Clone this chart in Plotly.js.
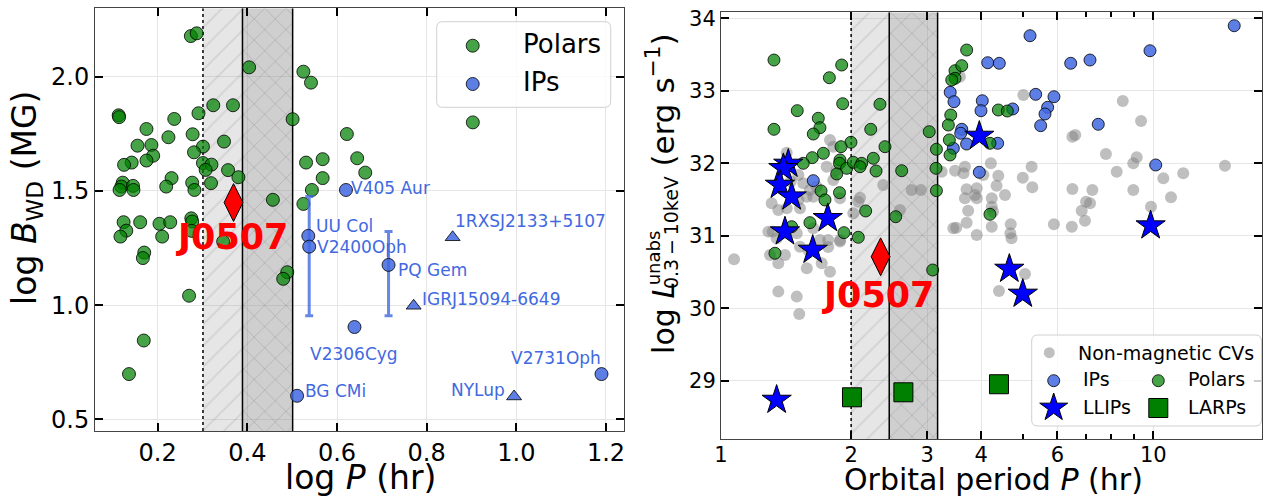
<!DOCTYPE html>
<html><head><meta charset="utf-8">
<script src="https://cdn.plot.ly/plotly-3.0.1.min.js"></script>
<style>html,body{margin:0;padding:0;background:#fff}#chart{width:1263px;height:496px}</style>
</head><body><div id="chart"></div>
<script>
// ================= DATA =================
// Left panel: Polars, log P (hr) vs log B_WD (MG)
const polarsLogP = [0.274,0.287,0.404,0.525,0.542,0.113,0.114,0.291,0.324,0.368,0.501,0.237,0.175,0.224,0.278,0.348,0.155,0.186,0.301,0.281,0.190,0.175,0.142,0.125,0.301,0.320,0.307,0.357,0.380,0.231,0.219,0.277,0.282,0.319,0.122,0.119,0.115,0.145,0.146,0.457,0.525,0.544,0.124,0.130,0.117,0.161,0.204,0.210,0.228,0.275,0.277,0.276,0.346,0.170,0.167,0.270,0.169,0.136,0.489,0.480,0.622,0.531,0.568,0.645,0.663,0.568,0.903];
const polarsLogB = [2.178,2.190,2.041,2.022,1.974,1.831,1.823,1.840,1.875,1.875,1.814,1.815,1.771,1.735,1.748,1.716,1.698,1.701,1.694,1.669,1.654,1.633,1.624,1.614,1.622,1.615,1.592,1.591,1.560,1.556,1.519,1.536,1.504,1.534,1.536,1.519,1.504,1.522,1.504,1.461,1.443,1.504,1.363,1.326,1.300,1.363,1.356,1.300,1.363,1.380,1.366,1.325,1.278,1.230,1.206,1.041,0.845,0.698,1.144,1.115,1.749,1.624,1.639,1.643,1.580,1.556,1.800];
// Left panel: IPs (circles)
const ipNames = ['BG CMi','UU Col','V2400Oph','PQ Gem','V405 Aur','V2306Cyg','V2731Oph'];
const ipLogP = [0.511,0.536,0.538,0.715,0.620,0.639,1.190];
const ipLogB = [0.603,1.303,1.256,1.176,1.504,0.904,0.698];
const ipErrPlus = [NaN,NaN,0.219,0.146,NaN,NaN,NaN];
const ipErrMinus = [NaN,NaN,0.303,0.223,NaN,NaN,NaN];
// Left panel: IPs (triangles)
const triNames = ['1RXSJ2133+5107','IGRJ15094-6649','NYLup'];
const triLogP = [0.858,0.771,0.995];
const triLogB = [1.297,0.997,0.600];
// J0507
const j0507P = 2.34;       // hr
const j0507LogB = 1.449;
const j0507LogL = 30.713;
// Period gap boundaries (hr)
const gapP = [2.0, 2.45, 3.17];

// Right panel: Orbital period (hr) vs log L
const nonmagP = [1.419,1.819,1.31,1.357,1.419,1.51,1.523,1.579,1.606,1.664,1.635,1.55,1.852,1.819,2.097,2.078,2.373,2.761,2.901,2.594,2.023,1.317,1.345,1.287,1.497,1.635,1.770,1.885,1.694,3.478,3.447,1.787,1.756,1.51,1.45,1.885,3.24,
  1.072,1.298,1.357,1.406,1.579,1.710,1.787,1.770,1.885,1.357,1.497,1.517,1.523,1.592,
  5.005,8.5,9.37,3.57,6.5,6.6,7.77,9.155,8.99,14.65,11.73,10.55,8.23,5.23,4.99,5.25,4.21,4.38,4.34,4.54,4.23,3.667,3.64,4.045,3.70,3.905,3.667,3.87,3.905,4.23,4.26,3.73,6.5,7.23,8.99,10.99,9.88,6.99,7.14,6.83,6.95,5.89,6.48,4.68,4.67,4.70,4.23,3.905,3.70,3.50,5.05,4.396];
const nonmagL = [32.147,32.230,31.45,31.358,31.381,31.496,31.381,31.541,31.633,31.679,31.541,31.726,31.909,31.771,31.527,31.472,31.702,31.633,31.633,31.358,31.312,31.059,30.967,31.059,31.036,31.105,30.944,30.944,30.944,31.899,31.105,32.323,31.954,31.84,31.75,31.52,31.886,
  30.678,30.737,30.622,30.737,30.554,30.622,30.507,30.847,30.922,30.232,30.163,29.924,30.85,30.806,
  32.943,32.86,32.584,33.195,32.368,32.391,32.13,32.084,32.001,31.968,31.863,31.795,31.886,31.954,31.803,31.67,32.001,31.831,31.693,31.565,31.519,31.954,31.863,31.84,31.643,31.657,31.519,31.565,31.519,31.403,31.334,31.348,31.647,31.633,31.633,31.532,31.403,31.472,31.45,31.348,31.21,31.16,31.127,31.16,31.036,30.967,31.127,31.013,31.183,31.114,30.475,30.241];
const rIpP = [15.39,5.186,9.826,4.140,4.404,6.441,7.138,5.345,5.892,5.697,5.617,5.489,4.729,4.022,3.994,3.390,3.459,7.460,3.605,3.585,3.700,4.365,3.447,10.13,3.959,1.635];
const rIpL = [33.898,33.760,33.553,33.388,33.380,33.380,33.425,32.952,32.919,32.773,32.681,32.520,32.750,32.864,32.726,32.980,32.850,32.539,32.470,32.415,32.267,32.277,32.208,31.978,31.877,31.762];
const rPolarP = [1.326,1.902,1.781,1.912,2.332,1.501,1.679,1.694,1.635,1.326,2.220,3.032,1.998,2.395,1.895,1.725,1.626,1.550,1.885,1.880,1.953,2.023,2.115,2.097,2.251,2.284,2.618,1.852,3.143,3.150,3.150,1.704,1.880,1.740,2.161,2.536,1.606,1.457,1.925,2.078,1.333,3.088,3.478,3.478,3.418,3.400,3.357,3.375,3.387,3.701,3.605,4.381,4.596,4.190,4.190];
const rPolarL = [33.425,33.356,33.181,32.823,32.815,32.727,32.622,32.492,32.405,32.470,32.470,32.437,32.291,32.230,32.230,32.139,32.079,32.001,32.047,32.001,31.932,32.015,32.001,31.954,32.070,31.895,31.899,31.854,31.932,32.194,31.624,31.620,31.596,31.496,31.344,31.265,31.183,31.127,31.045,30.981,30.761,30.530,33.278,33.173,33.150,32.667,32.529,32.323,32.116,33.563,33.347,32.736,32.722,32.277,31.298];
const llipP = [1.431,1.394,1.369,1.457,1.406,1.766,1.630,1.345,3.959,9.86,4.645,4.99];
const llipL = [31.992,31.932,31.702,31.541,31.059,31.243,30.806,28.738,32.378,31.142,30.544,30.20];
const larpP = [2.009,2.642,4.396];
const larpL = [28.775,28.844,28.955];

// Tick labels
const leftXTicks = [0.2,0.4,0.6,0.8,1.0,1.2];
const leftYTicks = [0.5,1.0,1.5,2.0];
const rightXTicks = [1,2,3,4,6,10];
const rightXMinor = [5,7,8,9];
const rightYTicks = [29,30,31,32,33,34];

// ================= STYLE / LAYOUT =================
const W = 1263, H = 496;
const FONT = 'DejaVu Sans';
const GREEN = 'rgba(0,128,0,0.72)';
const BLUE = 'rgba(65,105,225,0.85)';
const LBLUE = '#4169E1';
const GRAY = 'rgba(128,128,128,0.5)';
const EDGE = {color:'rgba(0,0,0,0.8)', width:1};
const leftXRange = [0.0602, 1.2402], leftYRange = [0.4488, 2.2995];
const rightXRange = [0, 1.2515], rightYRange = [28.2, 34.083];

const log10 = v => Math.log10(v);
const gapLog = gapP.map(log10);

const labelOffsets = {
  'BG CMi':[6,5,'left'], 'UU Col':[6,10,'left'], 'V2400Oph':[6,0,'left'], 'PQ Gem':[7,-5,'left'],
  'V405 Aur':[3,2,'left'], 'V2306Cyg':[-46,-27,'left'], 'V2731Oph':[-93,16,'left'],
  '1RXSJ2133+5107':[0,16,'left'], 'IGRJ15094-6649':[6,7,'left'], 'NYLup':[-7,6,'right']
};

function gapTraces(xa, ya, xs, yr) {
  return [
    {x:[xs[0],xs[1],xs[1],xs[0]], y:[yr[0],yr[0],yr[1],yr[1]], xaxis:xa, yaxis:ya, type:'scatter', mode:'none', fill:'toself',
     fillcolor:'rgba(128,128,128,0.2)', fillpattern:{shape:'/', bgcolor:'rgba(128,128,128,0.2)', fgcolor:'rgba(128,128,128,0.2)', size:15, solidity:0.12}, hoverinfo:'skip'},
    {x:[xs[1],xs[2],xs[2],xs[1]], y:[yr[0],yr[0],yr[1],yr[1]], xaxis:xa, yaxis:ya, type:'scatter', mode:'none', fill:'toself',
     fillcolor:'rgba(128,128,128,0.38)', fillpattern:{shape:'x', bgcolor:'rgba(128,128,128,0.38)', fgcolor:'rgba(110,110,110,0.28)', size:15, solidity:0.12}, hoverinfo:'skip'},
    {x:[xs[0],xs[0]], y:yr, xaxis:xa, yaxis:ya, type:'scatter', mode:'lines', line:{color:'#000', width:1.5, dash:'dot'}, hoverinfo:'skip'},
    {x:[xs[1],xs[1]], y:yr, xaxis:xa, yaxis:ya, type:'scatter', mode:'lines', line:{color:'#000', width:1.5}, hoverinfo:'skip'},
    {x:[xs[2],xs[2]], y:yr, xaxis:xa, yaxis:ya, type:'scatter', mode:'lines', line:{color:'#000', width:1.5}, hoverinfo:'skip'}
  ];
}

const traces = [];
traces.push(...gapTraces('x','y', gapLog, leftYRange));
traces.push(...gapTraces('x2','y2', gapP, rightYRange));

// Left panel
traces.push({x:polarsLogP, y:polarsLogB, xaxis:'x', yaxis:'y', type:'scatter', mode:'markers', name:'Polars',
  marker:{size:13, color:GREEN, line:EDGE}});
traces.push({x:ipLogP, y:ipLogB, xaxis:'x', yaxis:'y', type:'scatter', mode:'markers', name:'IPs',
  marker:{size:13, color:BLUE, line:EDGE},
  error_y:{type:'data', symmetric:false, array:ipErrPlus, arrayminus:ipErrMinus, color:'rgba(65,105,225,0.8)', thickness:3, width:4}});
traces.push({x:triLogP, y:triLogB, xaxis:'x', yaxis:'y', type:'scatter', mode:'markers', name:'IPs (tri)',
  marker:{size:13, symbol:'triangle-up', color:BLUE, line:EDGE}});
traces.push({x:[log10(j0507P)], y:[j0507LogB], xaxis:'x', yaxis:'y', type:'scatter', mode:'markers',
  marker:{size:27, symbol:'diamond-tall', color:'#ff0000', line:{color:'#000', width:1}}});

// Right panel
traces.push({x:nonmagP, y:nonmagL, xaxis:'x2', yaxis:'y2', type:'scatter', mode:'markers', name:'Non-magnetic CVs',
  marker:{size:12, color:GRAY}});
traces.push({x:rIpP, y:rIpL, xaxis:'x2', yaxis:'y2', type:'scatter', mode:'markers', name:'IPs',
  marker:{size:12, color:BLUE, line:EDGE}});
traces.push({x:rPolarP, y:rPolarL, xaxis:'x2', yaxis:'y2', type:'scatter', mode:'markers', name:'Polars',
  marker:{size:12, color:GREEN, line:EDGE}});
traces.push({x:llipP, y:llipL, xaxis:'x2', yaxis:'y2', type:'scatter', mode:'markers', name:'LLIPs',
  marker:{size:22, symbol:'star', color:'#0000ff', line:{color:'#000', width:1}}});
traces.push({x:larpP, y:larpL, xaxis:'x2', yaxis:'y2', type:'scatter', mode:'markers', name:'LARPs',
  marker:{size:19, symbol:'square', color:'#008000', line:{color:'#000', width:1}}});
traces.push({x:[j0507P], y:[j0507LogL], xaxis:'x2', yaxis:'y2', type:'scatter', mode:'markers',
  marker:{size:27, symbol:'diamond-tall', color:'#ff0000', line:{color:'#000', width:1}}});

// Legend keys (pixel-space overlay axis)
const legendKeys = [
  {px:472.7, py:45.7, size:13, symbol:'circle', color:GREEN, line:EDGE},
  {px:472.7, py:84, size:13, symbol:'circle', color:BLUE, line:EDGE},
  {px:1049.3, py:352.7, size:11, symbol:'circle', color:GRAY, line:{width:0}},
  {px:1053.7, py:380.7, size:12, symbol:'circle', color:BLUE, line:EDGE},
  {px:1158.3, py:380.7, size:12, symbol:'circle', color:GREEN, line:EDGE},
  {px:1053.7, py:407.7, size:21, symbol:'star', color:'#0000ff', line:{color:'#000',width:1}},
  {px:1158.3, py:408, size:19, symbol:'square', color:'#008000', line:{color:'#000',width:1}}
];
legendKeys.forEach(k => traces.push({x:[k.px], y:[k.py], xaxis:'x3', yaxis:'y3', type:'scatter', mode:'markers',
  marker:{size:k.size, symbol:k.symbol, color:k.color, line:k.line}, hoverinfo:'skip'}));

const legendTexts = [
  ['Polars', 520.7, 44, 26], ['IPs', 520.7, 81.7, 26],
  ['Non-magnetic CVs', 1075.7, 352.7, 19], ['IPs', 1080.7, 378.6, 19], ['Polars', 1185.7, 378.6, 19],
  ['LLIPs', 1080.7, 407.4, 19], ['LARPs', 1185.7, 407.4, 19]
];

function roundBox(x0,y0,x1,y1,r){
  return `M${x0+r},${y0} L${x1-r},${y0} Q${x1},${y0} ${x1},${y0+r} L${x1},${y1-r} Q${x1},${y1} ${x1-r},${y1} L${x0+r},${y1} Q${x0},${y1} ${x0},${y1-r} L${x0},${y0+r} Q${x0},${y0} ${x0+r},${y0} Z`;
}

const annotations = [];
// IP labels
function addLabels(names, xs, ys){
  names.forEach((n,i)=>{
    const o = labelOffsets[n];
    annotations.push({x:xs[i], y:ys[i], xref:'x', yref:'y', text:n, showarrow:false, xshift:o[0], yshift:o[1],
      xanchor:o[2], yanchor:'middle', font:{family:FONT, size:17, color:LBLUE}});
  });
}
addLabels(ipNames, ipLogP, ipLogB);
addLabels(triNames, triLogP, triLogB);
// J0507 labels
annotations.push({x:log10(j0507P), y:j0507LogB, xref:'x', yref:'y', text:'<b>J0507</b>', showarrow:false, xshift:-1.3, yshift:-34,
  xanchor:'center', yanchor:'middle', font:{family:FONT, size:35, color:'#ff0000'}});
annotations.push({x:log10(j0507P), y:j0507LogL, xref:'x2', yref:'y2', text:'<b>J0507</b>', showarrow:false, xshift:-2.7, yshift:-38.4,
  xanchor:'center', yanchor:'middle', font:{family:FONT, size:35, color:'#ff0000'}});
// Legend texts
legendTexts.forEach(t => annotations.push({x:t[1], y:t[2], xref:'x3', yref:'y3', text:t[0], showarrow:false,
  xanchor:'left', yanchor:'middle', font:{family:FONT, size:t[3], color:'#000'}}));
// Axis titles
annotations.push({x:360/W, y:1-477.9/H, xref:'paper', yref:'paper', text:'log <i>P</i> (hr)', showarrow:false,
  xanchor:'center', yanchor:'middle', font:{family:FONT, size:33, color:'#000'}});
annotations.push({x:993.3/W, y:1-479.6/H, xref:'paper', yref:'paper', text:'Orbital period <i>P</i> (hr)', showarrow:false,
  xanchor:'center', yanchor:'middle', font:{family:FONT, size:30, color:'#000'}});
annotations.push({x:26.4/W, y:1-197.5/H, xref:'paper', yref:'paper', text:'log <i>B</i><sub>WD</sub> (MG)', showarrow:false,
  textangle:-90, xanchor:'center', yanchor:'middle', font:{family:FONT, size:33, color:'#000'}});
annotations.push({x:662.9/W, y:1-356/H, xref:'paper', yref:'paper', text:'log <i>L</i>', showarrow:false,
  textangle:-90, xanchor:'center', yanchor:'bottom', font:{family:FONT, size:30, color:'#000'}});
annotations.push({x:653.8/W, y:1-287/H, xref:'paper', yref:'paper', text:'unabs', showarrow:false,
  textangle:-90, xanchor:'center', yanchor:'bottom', font:{family:FONT, size:18, color:'#000'}});
annotations.push({x:670.6/W, y:1-291/H, xref:'paper', yref:'paper', text:'0.3\u2009\u2212\u200910keV', showarrow:false,
  textangle:-90, xanchor:'center', yanchor:'bottom', font:{family:FONT, size:19, color:'#000'}});
annotations.push({x:661/W, y:1-32/H, xref:'paper', yref:'paper', text:'(erg s<sup>\u22121</sup>)', showarrow:false,
  textangle:-90, xanchor:'center', yanchor:'top', font:{family:FONT, size:31, color:'#000'}});

const baseAxis = {
  ticks:'inside', ticklen:8, tickwidth:2, tickcolor:'#000', mirror:'allticks', showline:true, linecolor:'#444', linewidth:1,
  showgrid:true, gridcolor:'#e6e6e6', gridwidth:1, zeroline:false, tickmode:'array', fixedrange:true
};

const layout = {
  width:W, height:H, margin:{l:0,r:0,t:0,b:0}, paper_bgcolor:'#fff', plot_bgcolor:'rgba(0,0,0,0)',
  showlegend:false, font:{family:FONT, color:'#000'},
  xaxis:Object.assign({}, baseAxis, {domain:[95/W, 624/W], range:leftXRange, anchor:'y',
    tickvals:leftXTicks, ticktext:leftXTicks.map(v=>v.toFixed(1)), tickfont:{family:FONT, size:24, color:'#000'}}),
  yaxis:Object.assign({}, baseAxis, {domain:[1-431/H, 1-8.3/H], range:leftYRange, anchor:'x',
    tickvals:leftYTicks, ticktext:leftYTicks.map(v=>v.toFixed(1)), tickfont:{family:FONT, size:24, color:'#000'}}),
  xaxis2:Object.assign({}, baseAxis, {type:'log', domain:[721/W, 1262/W], range:rightXRange, anchor:'y2',
    tickvals:rightXTicks, ticktext:rightXTicks.map(String), tickfont:{family:FONT, size:21, color:'#000'}, ticklabelstandoff:-3,
    minor:{tickmode:'array', tickvals:rightXMinor, ticks:'inside', ticklen:5, tickwidth:1.5, tickcolor:'#000', showgrid:false}}),
  yaxis2:Object.assign({}, baseAxis, {domain:[1-439/H, 1-12.3/H], range:rightYRange, anchor:'x2',
    tickvals:rightYTicks, ticktext:rightYTicks.map(String), tickfont:{family:FONT, size:21, color:'#000'}}),
  xaxis3:{domain:[0,1], range:[0,W], visible:false, anchor:'y3', fixedrange:true},
  yaxis3:{domain:[0,1], range:[H,0], visible:false, anchor:'x3', fixedrange:true},
  shapes:[
    {type:'path', xref:'x3', yref:'y3', path:roundBox(436.7,21.7,610.7,107.3,6), fillcolor:'rgba(255,255,255,0.8)', line:{color:'#d0d0d0', width:1}, layer:'below'},
    {type:'path', xref:'x3', yref:'y3', path:roundBox(1031.7,335,1261.5,426,6), fillcolor:'rgba(255,255,255,0.8)', line:{color:'#d0d0d0', width:1}, layer:'below'}
  ],
  annotations:annotations
};

Plotly.newPlot('chart', traces, layout, {displayModeBar:false, responsive:false});
</script>
</body></html>
